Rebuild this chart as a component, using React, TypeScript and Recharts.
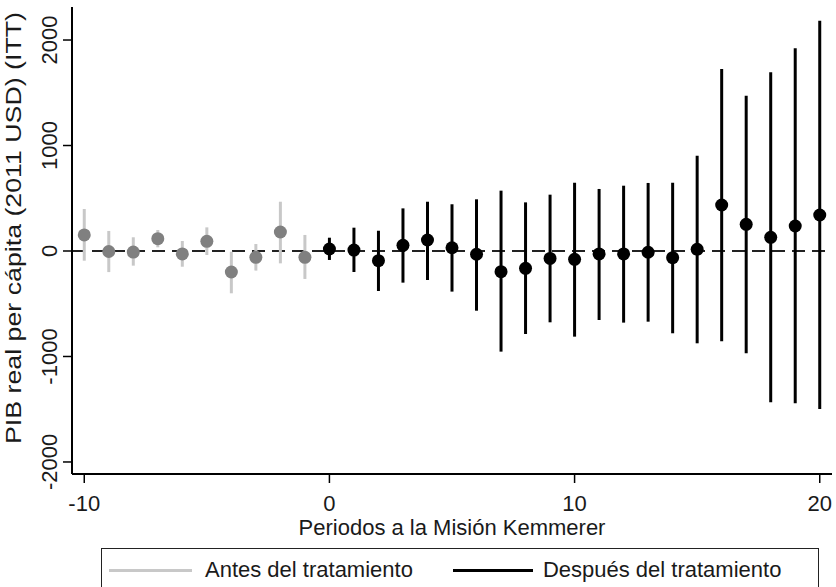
import {
  ComposedChart,
  Scatter,
  ErrorBar,
  XAxis,
  YAxis,
  ReferenceLine,
  Legend,
} from "recharts";

// periodos relativos a la Misión Kemmerer
const periods = [
  -10, -9, -8, -7, -6, -5, -4, -3, -2, -1, 0, 1, 2, 3, 4, 5, 6, 7, 8, 9, 10,
  11, 12, 13, 14, 15, 16, 17, 18, 19, 20,
];
const estimates = [
  152, -5, -10, 117, -28, 92, -199, -60, 180, -60, 19, 9, -92, 54, 104, 31,
  -31, -196, -164, -70, -79, -28, -28, -12, -63, 16, 436, 253, 130, 237, 341,
];
const lower = [
  -92, -200, -139, 35, -149, -38, -401, -186, -117, -265, -85, -199, -379,
  -300, -275, -385, -566, -954, -787, -676, -812, -654, -679, -670, -780,
  -875, -856, -970, -1434, -1444, -1498,
];
const upper = [
  398, 190, 130, 199, 95, 224, -7, 66, 467, 152, 126, 221, 192, 404, 467, 443,
  490, 572, 461, 534, 647, 588, 619, 645, 647, 903, 1725, 1472, 1694, 1921,
  2183,
];
const xTicks = [-10, 0, 10, 20];
const yTicks = [-2000, -1000, 0, 1000, 2000];

const rows = periods.map((p, i) => ({
  period: p,
  coef: estimates[i],
  err: [estimates[i] - lower[i], upper[i] - estimates[i]],
}));
const before = rows.filter((r) => r.period < 0);
const after = rows.filter((r) => r.period >= 0);

const FONT = "'Liberation Sans', Arial, sans-serif";
const TXT = "#1a1a1a";
const LIGHT = "#c8c8c8";

const YTick = (props: any) => {
  const { x, y, payload } = props;
  const bx = x - 4;
  return (
    <text
      x={bx}
      y={y}
      transform={`rotate(-90 ${bx} ${y})`}
      textAnchor="middle"
      fontSize={22}
      fontFamily={FONT}
      fill={TXT}
    >
      {payload.value}
    </text>
  );
};

const YTitle = () => (
  <text
    x={21}
    y={228}
    transform="rotate(-90 21 228)"
    textAnchor="middle"
    fontSize={22}
    fontFamily={FONT}
    fill={TXT}
    textLength={432}
    lengthAdjust="spacingAndGlyphs"
  >
    PIB real per cápita (2011 USD) (ITT)
  </text>
);

const LegendBox = () => (
  <div
    style={{
      boxSizing: "border-box",
      height: 39,
      border: "1.5px solid #222",
      borderBottom: "none",
      display: "flex",
      alignItems: "center",
      paddingTop: 4,
      fontFamily: FONT,
      fontSize: 22,
      color: TXT,
    }}
  >
    <span
      style={{ marginLeft: 7, width: 83, height: 3, background: LIGHT }}
    />
    <span style={{ marginLeft: 13 }}>Antes del tratamiento</span>
    <span
      style={{ marginLeft: 40, width: 80, height: 3, background: "#000" }}
    />
    <span style={{ marginLeft: 10 }}>Después del tratamiento</span>
  </div>
);

const dot = (fill: string) => (p: any) =>
  <circle cx={p.cx} cy={p.cy} r={6.5} fill={fill} />;

const App = () => {
  return (
    <div style={{ position: "absolute", left: 0, top: 0, background: "#fff" }}>
      <ComposedChart
        width={836}
        height={587}
        margin={{ top: 7, right: 4, bottom: 0, left: 0 }}
      >
        <XAxis
          dataKey="period"
          type="number"
          domain={[-10.5, 20.5]}
          ticks={xTicks}
          allowDataOverflow
          height={74}
          tickSize={9}
          tickMargin={12}
          axisLine={{ stroke: "#000", strokeWidth: 2 }}
          tickLine={{ stroke: "#000", strokeWidth: 1.5 }}
          tick={{ fontSize: 22, fontFamily: FONT, fill: TXT }}
          label={{
            value: "Periodos a la Misión Kemmerer",
            position: "insideBottom",
            offset: 13,
            fontSize: 22,
            fontFamily: FONT,
            fill: TXT,
          }}
        />
        <XAxis
          xAxisId="top"
          orientation="top"
          type="number"
          domain={[-10.5, 20.5]}
          height={0}
          tick={false}
          tickLine={false}
          axisLine={{ stroke: "#8c8c8c", strokeWidth: 1 }}
        />
        <YAxis
          type="number"
          domain={[-2114, 2313]}
          ticks={yTicks}
          allowDataOverflow
          width={72}
          tickSize={9}
          axisLine={{ stroke: "#000", strokeWidth: 2 }}
          tickLine={{ stroke: "#000", strokeWidth: 1.5 }}
          tick={<YTick />}
          label={{ content: <YTitle /> }}
        />
        <YAxis
          yAxisId="right"
          orientation="right"
          type="number"
          domain={[-2114, 2313]}
          width={0}
          tick={false}
          tickLine={false}
          axisLine={{ stroke: "#8c8c8c", strokeWidth: 1 }}
        />
        <ReferenceLine
          y={0}
          stroke="#222"
          strokeWidth={2}
          strokeDasharray="13 7"
        />
        <Scatter
          name="Antes del tratamiento"
          data={before}
          dataKey="coef"
          isAnimationActive={false}
          shape={dot("#808080")}
        >
          <ErrorBar
            dataKey="err"
            direction="y"
            width={0}
            stroke={LIGHT}
            strokeWidth={3}
          />
        </Scatter>
        <Scatter
          name="Después del tratamiento"
          data={after}
          dataKey="coef"
          isAnimationActive={false}
          shape={dot("#000")}
        >
          <ErrorBar
            dataKey="err"
            direction="y"
            width={0}
            stroke="#000"
            strokeWidth={3}
          />
        </Scatter>
        <Legend
          verticalAlign="bottom"
          content={<LegendBox />}
          wrapperStyle={{ left: 101, width: 718, bottom: 0 }}
        />
      </ComposedChart>
    </div>
  );
};

export default App;
